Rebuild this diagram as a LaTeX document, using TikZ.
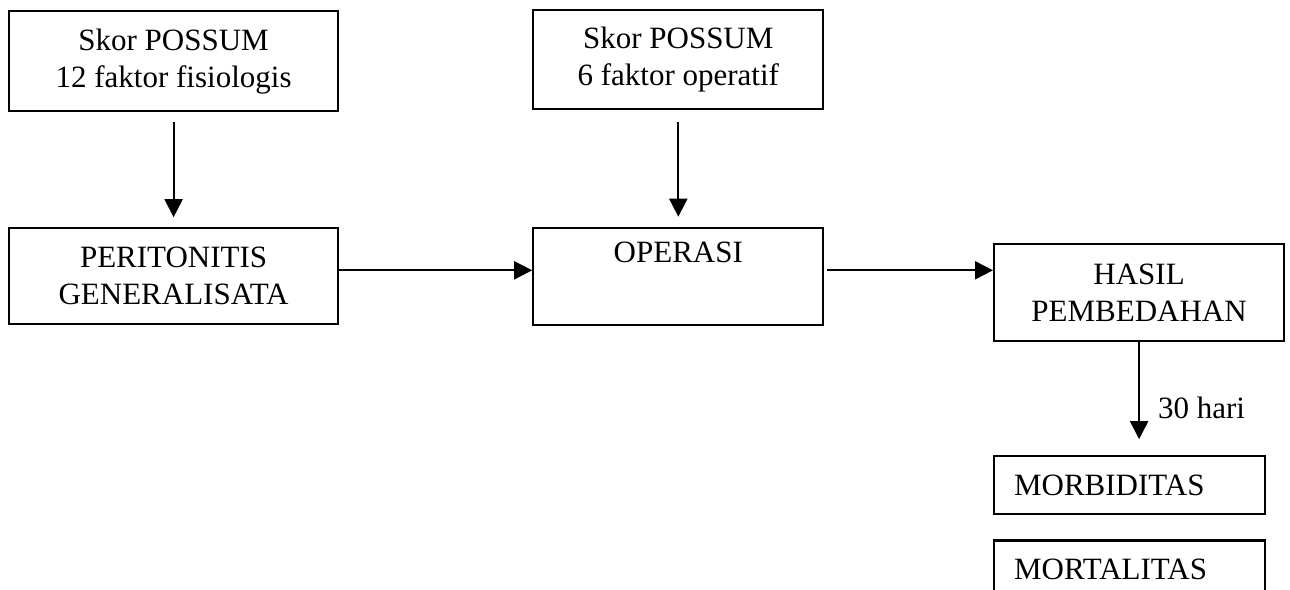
\documentclass[tikz,border=0pt]{standalone}
\usepackage{fontspec}
\setmainfont{Liberation Serif}
\usetikzlibrary{arrows.meta, positioning}

\begin{document}
\begin{tikzpicture}[x=1pt, y=1pt, >={Triangle[length=18pt, width=18pt]},
    box/.style={draw, line width=2.2pt, inner sep=0pt, align=center,
                font=\fontsize{31}{37}\selectfont},
    arr/.style={->, line width=2pt}]
  \useasboundingbox (0,0) rectangle (1290,-589);

  % top row: score inputs
  \node[box, minimum width=329pt, minimum height=100pt, anchor=north west]
    (skorfis) at (8,-10) {Skor POSSUM\\12 faktor fisiologis};
  \node[box, minimum width=329pt, minimum height=96pt,
        below=115pt of skorfis] (perit) {PERITONITIS\\GENERALISATA};

  \node[box, minimum width=290pt, minimum height=97pt,
        right=193pt of perit] (operasi) {OPERASI\\\strut};
  \node[box, minimum width=290pt, minimum height=99pt,
        above=117pt of operasi] (skorop) {Skor POSSUM\\6 faktor operatif};

  % outcome column
  \node[box, minimum width=290pt, minimum height=97pt, anchor=north west]
    (hasil) at (993,-243) {HASIL\\PEMBEDAHAN};
  \node[box, minimum width=271pt, minimum height=58pt, text width=231pt,
        inner xsep=20pt, align=left, below=113pt of hasil.south west,
        anchor=north west] (morb) {MORBIDITAS};
  \node[box, minimum width=271pt, minimum height=58pt, text width=231pt,
        inner xsep=20pt, align=left, below=24pt of morb.south west,
        anchor=north west] (mort) {MORTALITAS};

  \draw[arr, shorten <=10pt, shorten >=10pt] (skorfis) -- (perit);
  \draw[arr, shorten <=12pt, shorten >=10pt] (skorop) -- (operasi);
  \draw[arr] ([yshift=6pt]perit.east) -- ([yshift=6pt]operasi.west);
  \draw[arr, shorten <=3pt] ([yshift=6pt]operasi.east)
    -- ([yshift=6pt]operasi.east -| hasil.west);
  \draw[arr, shorten >=16pt] (hasil.south) -- (hasil.south |- morb.north)
    node[pos=0.58, right=18pt, inner sep=0pt,
         font=\fontsize{31}{37}\selectfont] (hari) {30 hari};
\end{tikzpicture}
\end{document}
